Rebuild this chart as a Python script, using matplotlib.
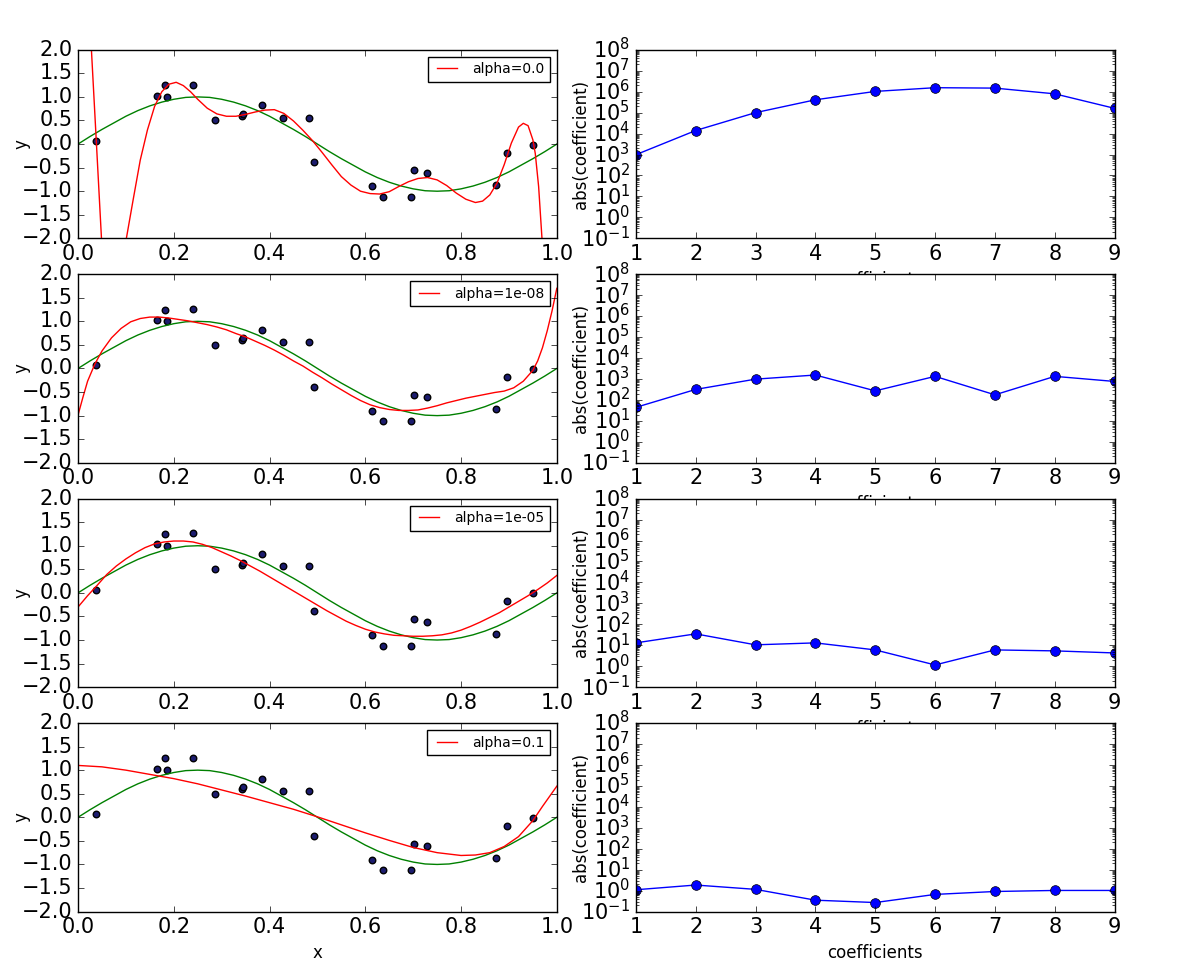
import matplotlib
matplotlib.use('Agg')
import matplotlib.pyplot as plt

plt.style.use('classic')
plt.rcParams['xtick.labelsize'] = 15
plt.rcParams['ytick.labelsize'] = 15
plt.rcParams['axes.labelsize'] = 12

# noisy samples
x_pts = [0.037, 0.166, 0.181, 0.185, 0.241, 0.287, 0.342, 0.344, 0.385, 0.429,
         0.483, 0.492, 0.614, 0.637, 0.696, 0.702, 0.728, 0.874, 0.896, 0.951]
y_pts = [0.07, 1.03, 1.25, 1.00, 1.26, 0.50, 0.60, 0.64, 0.82, 0.56,
         0.56, -0.39, -0.90, -1.12, -1.12, -0.56, -0.61, -0.87, -0.18, -0.01]

# true curve (green)
true_x = [i / 40 for i in range(41)]
true_y = [0.0, 0.16, 0.31, 0.45, 0.59, 0.71, 0.81, 0.89, 0.95, 0.99, 1.0,
          0.99, 0.95, 0.89, 0.81, 0.71, 0.59, 0.45, 0.31, 0.16, 0.0,
          -0.16, -0.31, -0.45, -0.59, -0.71, -0.81, -0.89, -0.95, -0.99, -1.0,
          -0.99, -0.95, -0.89, -0.81, -0.71, -0.59, -0.45, -0.31, -0.16, 0.0]

# fitted curves (red)
fit0_x = [0.0, 0.015, 0.028, 0.038, 0.049, 0.06, 0.07, 0.08, 0.09, 0.101,
          0.115, 0.13, 0.145, 0.16, 0.175, 0.19, 0.205, 0.22, 0.235, 0.25,
          0.27, 0.29, 0.31, 0.33, 0.35, 0.37, 0.39, 0.41, 0.43, 0.45,
          0.47, 0.49, 0.51, 0.53, 0.55, 0.57, 0.59, 0.61, 0.63, 0.65,
          0.67, 0.69, 0.71, 0.73, 0.75, 0.77, 0.79, 0.81, 0.83, 0.845,
          0.86, 0.875, 0.89, 0.905, 0.92, 0.93, 0.94, 0.95, 0.955, 0.962,
          0.969, 0.98, 1.0]
fit0_y = [8.0, 4.4, 2.0, 0.1, -2.0, -3.6, -4.2, -3.6, -2.7, -2.0,
          -1.19, -0.34, 0.30, 0.80, 1.11, 1.27, 1.31, 1.24, 1.11, 0.95,
          0.76, 0.64, 0.59, 0.59, 0.63, 0.68, 0.72, 0.73, 0.65, 0.49,
          0.29, 0.07, -0.18, -0.44, -0.69, -0.87, -1.00, -1.05, -1.06, -1.01,
          -0.90, -0.80, -0.73, -0.71, -0.76, -0.88, -1.04, -1.17, -1.24, -1.21,
          -1.08, -0.83, -0.44, 0.02, 0.36, 0.44, 0.39, 0.09, -0.2, -0.9,
          -2.0, -4.0, -9.0]

fit1_x = [0.0, 0.01, 0.02, 0.035, 0.05, 0.07, 0.09, 0.11, 0.13, 0.15,
          0.17, 0.19, 0.21, 0.23, 0.25, 0.27, 0.29, 0.31, 0.33, 0.35,
          0.37, 0.39, 0.41, 0.43, 0.45, 0.47, 0.49, 0.51, 0.53, 0.55,
          0.57, 0.59, 0.61, 0.63, 0.65, 0.67, 0.69, 0.71, 0.73, 0.75,
          0.77, 0.79, 0.81, 0.83, 0.85, 0.87, 0.89, 0.91, 0.93, 0.95,
          0.96, 0.97, 0.98, 0.99, 1.0]
fit1_y = [-0.99, -0.62, -0.27, 0.09, 0.37, 0.65, 0.85, 0.99, 1.06, 1.09,
          1.09, 1.07, 1.04, 1.01, 0.97, 0.93, 0.88, 0.82, 0.74, 0.67,
          0.58, 0.49, 0.39, 0.28, 0.16, 0.05, -0.08, -0.20, -0.33, -0.45,
          -0.57, -0.68, -0.77, -0.83, -0.87, -0.89, -0.89, -0.88, -0.84, -0.79,
          -0.73, -0.68, -0.63, -0.59, -0.55, -0.51, -0.48, -0.41, -0.27, -0.04,
          0.16, 0.44, 0.80, 1.22, 1.70]

fit2_x = [i / 50 for i in range(51)]
fit2_y = [-0.30, -0.06, 0.16, 0.39, 0.57, 0.72, 0.85, 0.96, 1.04, 1.08,
          1.10, 1.10, 1.08, 1.03, 0.96, 0.87, 0.78, 0.68, 0.57, 0.46,
          0.34, 0.22, 0.10, -0.02, -0.14, -0.26, -0.38, -0.49, -0.60, -0.69,
          -0.77, -0.83, -0.87, -0.90, -0.91, -0.92, -0.92, -0.91, -0.89, -0.85,
          -0.79, -0.71, -0.62, -0.52, -0.42, -0.30, -0.18, -0.06, 0.07, 0.21,
          0.37]

fit3_x = [0.0, 0.05, 0.10, 0.15, 0.20, 0.25, 0.30, 0.35, 0.40, 0.45,
          0.50, 0.55, 0.60, 0.65, 0.70, 0.75, 0.80, 0.83, 0.86, 0.89,
          0.92, 0.95, 0.97, 1.0]
fit3_y = [1.10, 1.07, 1.00, 0.91, 0.82, 0.71, 0.58, 0.45, 0.31, 0.17,
          0.01, -0.16, -0.33, -0.49, -0.64, -0.75, -0.81, -0.80, -0.75, -0.62,
          -0.41, -0.07, 0.23, 0.66]

alphas = ['0.0', '1e-08', '1e-05', '0.1']

# abs(coefficient) per alpha
coef_idx = [1, 2, 3, 4, 5, 6, 7, 8, 9]
coef_a0 = [980, 1.4e4, 1.0e5, 4.1e5, 1.03e6, 1.55e6, 1.48e6, 7.9e5, 1.6e5]
coef_a1 = [44, 316, 980, 1540, 270, 1330, 175, 1330, 760]
coef_a2 = [13, 35, 10.5, 13, 6.0, 1.15, 6.0, 5.4, 4.3]
coef_a3 = [1.10, 1.85, 1.15, 0.35, 0.27, 0.66, 0.91, 1.02, 1.02]

fits = [(fit0_x, fit0_y), (fit1_x, fit1_y), (fit2_x, fit2_y), (fit3_x, fit3_y)]
coefs = [coef_a0, coef_a1, coef_a2, coef_a3]

fig = plt.figure(figsize=(11.82, 9.76), dpi=100)
fig.subplots_adjust(left=0.066, right=0.943, top=0.949, bottom=0.066,
                    wspace=0.165, hspace=0.19)

for i in range(4):
    ax = fig.add_subplot(4, 2, 2 * i + 1)
    ax.scatter(x_pts, y_pts, s=22, c='#1c1c6e', edgecolors='k')
    ax.plot(true_x, true_y, 'g')
    ax.plot(fits[i][0], fits[i][1], 'r', label='alpha=' + alphas[i])
    ax.set_xlim(0, 1)
    ax.set_ylim(-2, 2)
    ax.set_xlabel('x')
    ax.set_ylabel('y', labelpad=-6)
    ax.legend(loc='upper right', fontsize=10)

    ax2 = fig.add_subplot(4, 2, 2 * i + 2)
    ax2.semilogy(coef_idx, coefs[i], 'bo-', markersize=7)
    ax2.set_xlim(1, 9)
    ax2.set_ylim(1e-1, 1e8)
    ax2.set_xlabel('coefficients')
    ax2.set_ylabel('abs(coefficient)', labelpad=-6)

fig.savefig('out.png', dpi=100)
